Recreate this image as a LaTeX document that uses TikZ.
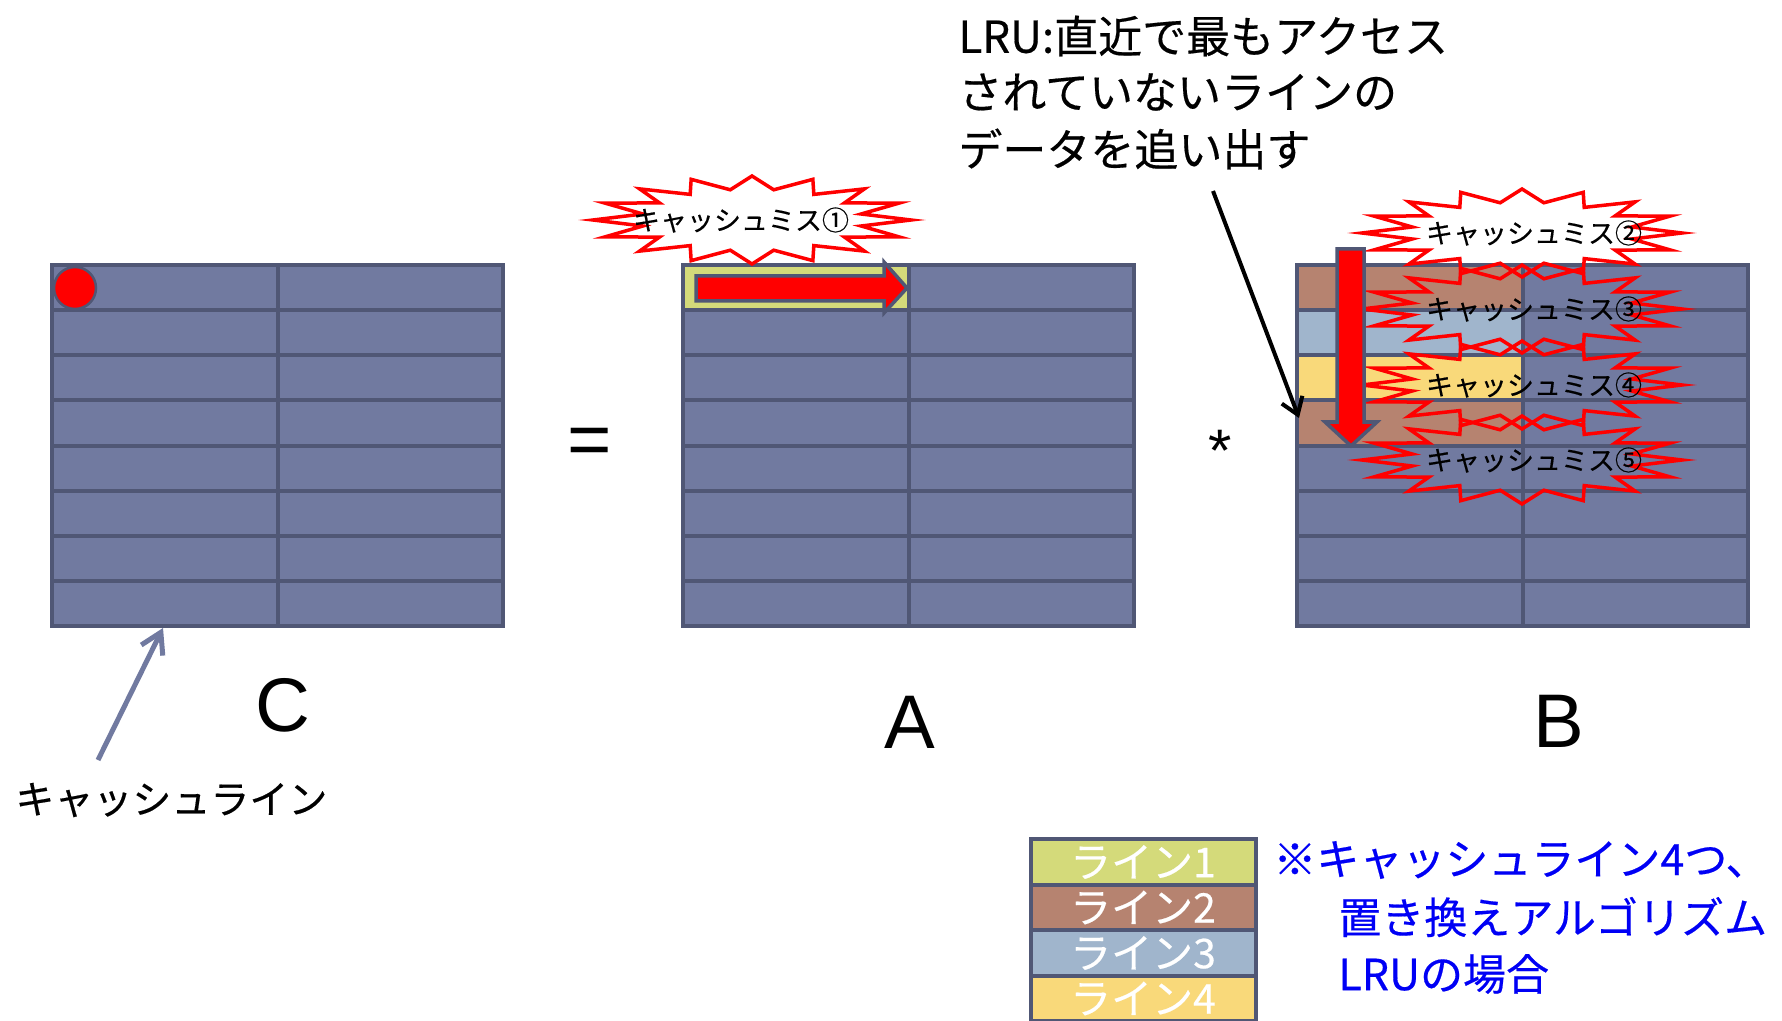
\documentclass[tikz,border=0pt]{standalone}
\usepackage{fontspec}
\setmainfont{Noto Sans CJK JP}[FakeBold=0.4]
\newfontfamily\latinf{Liberation Sans}
\usetikzlibrary{arrows.meta}
\definecolor{gridfill}{RGB}{113,122,160}
\definecolor{gridline}{RGB}{80,87,117}
\definecolor{lineA}{RGB}{212,218,122}
\definecolor{lineB}{RGB}{182,131,112}
\definecolor{lineC}{RGB}{160,181,204}
\definecolor{lineD}{RGB}{249,217,122}
\definecolor{notebl}{RGB}{0,0,245}
% star burst: cx cy rx ry style
\newcommand\burstshape[5]{%
  \path[#5] ({#1+#3},{#2}) \foreach \i in {1,...,31}{ -- ({#1+#3*cos(\i*11.25)*(1-0.3*mod(\i,2))},{#2+#4*sin(\i*11.25)*(1-0.3*mod(\i,2))}) } -- cycle;}
\newcommand\matfill[1]{\fill[gridfill] ({#1},265) rectangle ({#1+451},626);}
\newcommand\matlines[1]{%
  \foreach \k in {1,...,7} \draw[gridln] ({#1},{265+\k*45.125}) -- ({#1+451},{265+\k*45.125});
  \draw[gridln] ({#1+225.5},265) -- ({#1+225.5},626);
  \draw[gridln] ({#1},265) rectangle ({#1+451},626);}
\begin{document}
\begin{tikzpicture}[x=0.5pt,y=-0.5pt,
  gridln/.style={draw=gridline, line width=2pt},
  burstline/.style={draw=red, line width=1.75pt, line join=miter},
  bursttxt/.style={font=\fontsize{13.5pt}{16pt}\selectfont, inner sep=0pt},
  bigtxt/.style={font=\fontsize{22pt}{26pt}\selectfont, inner sep=0pt, anchor=west},
  letter/.style={font=\latinf\fontsize{38pt}{44pt}\selectfont, inner sep=0pt, anchor=base},
  legtxt/.style={font=\fontsize{20.5pt}{24pt}\selectfont, text=white, inner sep=0pt},
  notetxt/.style={font=\fontsize{21.5pt}{26pt}\selectfont, text=notebl, inner sep=0pt, anchor=west},
  blockarrow/.style={fill=red, draw=gridline, line width=1.75pt, line join=miter},
]
\useasboundingbox (0,0) rectangle (1782,1021);
\fill[white] (0,0) rectangle (1782,1021);

% white fills of bursts above grids
\burstshape{752}{220}{159}{44}{fill=white}
\burstshape{1522}{233}{160}{44}{fill=white}

% grids
\matfill{52}
\matfill{683}
\matfill{1297}
\fill[lineA] (683,265) rectangle (908.5,310.125);
\fill[lineB] (1297,265) rectangle (1522.5,310.125);
\fill[lineC] (1297,310.125) rectangle (1522.5,355.25);
\fill[lineD] (1297,355.25) rectangle (1522.5,400.375);
\fill[lineB] (1297,400.375) rectangle (1522.5,445.5);
\matlines{52}
\matlines{683}
\matlines{1297}

% red dot
\draw[fill=red, draw=gridline, line width=1.25pt] (75,288) circle[radius=21];

% burst outlines
\burstshape{752}{220}{159}{44}{burstline}
\burstshape{1522}{233}{160}{44}{burstline}
\burstshape{1522}{309}{160}{44}{burstline}
\burstshape{1522}{385}{160}{44}{burstline}
\burstshape{1522}{460}{160}{44}{burstline}

% block arrows
\draw[blockarrow] (696,276) -- (884,276) -- (884,262) -- (907,288) -- (884,313) -- (884,301) -- (696,301) -- cycle;
\draw[blockarrow] (1337,249) -- (1364,249) -- (1364,422) -- (1377,422) -- (1351,446) -- (1325,422) -- (1337,422) -- cycle;

% burst texts
\node[bursttxt] (miss1) at (741,220) {キャッシュミス①};
\node[bursttxt] (miss2) at (1534,233) {キャッシュミス②};
\node[bursttxt] (miss3) at (1534,309) {キャッシュミス③};
\node[bursttxt] (miss4) at (1534,385) {キャッシュミス④};
\node[bursttxt] (miss5) at (1534,460) {キャッシュミス⑤};

% letters and operators
\node[letter] (matC) at (283,731) {C};
\node[letter] (matA) at (910,748) {A};
\node[letter] (matB) at (1559,747) {B};
\node[letter] (eq) at (590,466) {=};
\node[letter, font=\latinf\fontsize{30pt}{34pt}\selectfont] (times) at (1220,471) {*};

% top label
\node[bigtxt] (lru1) at (958,36) {LRU:直近で最もアクセス};
\node[bigtxt] (lru2) at (958,92) {されていないラインの};
\node[bigtxt] (lru3) at (958,149) {データを追い出す};
\coordinate (lruS) at (1213,191);
\coordinate (lruT) at (1299,418);
\draw[line width=2pt, -{Straight Barb[length=8pt,width=11pt]}] (lruS) -- (lruT);

% cache line label
\node[font=\fontsize{19.5pt}{24pt}\selectfont, inner sep=0pt, anchor=west] (cl) at (15,800) {キャッシュライン};
\coordinate (clS) at (98,760);
\coordinate (clT) at (163,628);
\draw[draw=gridfill, line width=2.5pt, -{Straight Barb[length=10pt,width=12pt]}] (clS) -- (clT);

% legend
\fill[lineA] (1031,839) rectangle (1256,884.5);
\fill[lineB] (1031,884.5) rectangle (1256,930);
\fill[lineC] (1031,930) rectangle (1256,975.5);
\fill[lineD] (1031,975.5) rectangle (1256,1021);
\draw[gridln] (1031,839) rectangle (1256,1021);
\foreach \yy in {884.5,930,975.5} \draw[gridln] (1031,\yy) -- (1256,\yy);
\node[legtxt] (leg1) at (1143,862) {ライン1};
\node[legtxt] (leg2) at (1143,907.5) {ライン2};
\node[legtxt] (leg3) at (1143,953) {ライン3};
\node[legtxt] (leg4) at (1143,998.5) {ライン4};

% note
\node[notetxt] (note1) at (1273,860) {※キャッシュライン4つ、};
\node[notetxt] (note2) at (1338,917) {置き換えアルゴリズム};
\node[notetxt] (note3) at (1338,974) {LRUの場合};
\end{tikzpicture}
\end{document}
